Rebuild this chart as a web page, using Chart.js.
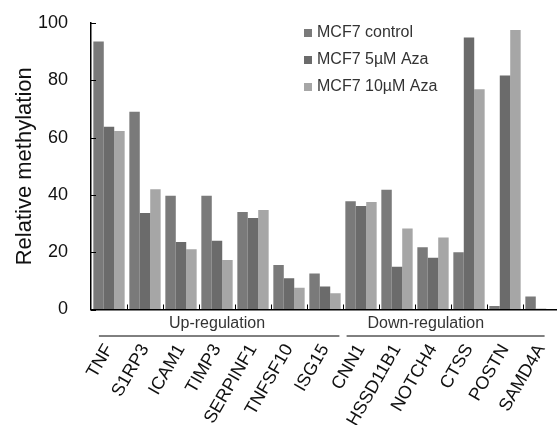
<!DOCTYPE html>
<html>
<head>
<meta charset="utf-8">
<script src="https://cdn.jsdelivr.net/npm/chart.js@4"></script>
<style>
  html, body { margin: 0; padding: 0; background: #fff; overflow: hidden; }
  #wrap { width: 562px; height: 425px; }
</style>
</head>
<body>
<div id="wrap"><canvas id="chart"></canvas></div>
<script>
  const genes = ['TNF', 'S1RP3', 'ICAM1', 'TIMP3', 'SERPINF1', 'TNFSF10', 'ISG15',
    'CNN1', 'HSSD11B1', 'NOTCH4', 'CTSS', 'POSTN', 'SAMD4A'];
  const control = [93.5, 69, 39.7, 39.7, 34, 15.5, 12.6, 37.8, 41.8, 21.7, 20, 1.2, 4.5];
  const aza5 = [63.8, 33.7, 23.6, 24, 31.9, 10.9, 8, 36.1, 14.9, 18.1, 94.9, 81.7, 0.3];
  const aza10 = [62.3, 42, 21, 17.3, 34.7, 7.6, 5.7, 37.5, 28.3, 25.1, 76.9, 97.6, 0.2];
  const seriesNames = ['MCF7 control', 'MCF7 5µM Aza', 'MCF7 10µM Aza'];
  const seriesColors = ['#7a7a7a', '#6b6b6b', '#a6a6a6'];
  const yTicks = [0, 20, 40, 60, 80, 100];
  const groupNames = ['Up-regulation', 'Down-regulation'];
  const groupFirst = [0, 7];
  const groupLast = [6, 12];

  const FONT = 'Arial, "Liberation Sans", sans-serif';
  const HIDDEN = 'rgba(0,0,0,0)';

  // ticks pointing into the plot, group labels under the axis, legend
  const extras = {
    id: 'extras',
    afterDraw(chart) {
      const ctx = chart.ctx;
      const x = chart.scales.x;
      const y = chart.scales.y;
      const area = chart.chartArea;
      const w = x.getPixelForValue(1) - x.getPixelForValue(0);
      ctx.save();
      ctx.strokeStyle = '#000';
      ctx.lineWidth = 1;

      for (let i = 1; i < genes.length; i++) {
        const px = Math.round(x.getPixelForValue(i) - w / 2) + 0.5;
        ctx.beginPath();
        ctx.moveTo(px, area.bottom);
        ctx.lineTo(px, area.bottom - 5);
        ctx.stroke();
      }
      for (const v of yTicks) {
        const py = Math.round(y.getPixelForValue(v)) + 0.5;
        ctx.beginPath();
        ctx.moveTo(area.left, py);
        ctx.lineTo(area.left + 5, py);
        ctx.stroke();
      }

      ctx.font = '16px ' + FONT;
      ctx.fillStyle = '#333';
      ctx.textAlign = 'center';
      ctx.textBaseline = 'middle';
      const insetL = [0.28, 0.4];
      const insetR = [0.4, 0.1];
      const textShift = [0, -0.7];
      groupNames.forEach((name, g) => {
        const a = x.getPixelForValue(groupFirst[g]) - insetL[g] * w;
        const b = x.getPixelForValue(groupLast[g]) + insetR[g] * w;
        const mid = (x.getPixelForValue(groupFirst[g]) + x.getPixelForValue(groupLast[g])) / 2 + textShift[g] * w;
        ctx.fillText(name, mid, area.bottom + 14);
        ctx.beginPath();
        ctx.moveTo(a, area.bottom + 26.5);
        ctx.lineTo(b, area.bottom + 26.5);
        ctx.stroke();
      });

      ctx.font = '16px ' + FONT;
      ctx.textAlign = 'left';
      chart.data.datasets.forEach((ds, i) => {
        const ly = 33 + i * 27;
        ctx.fillStyle = ds.backgroundColor;
        ctx.fillRect(304, ly - 4, 8, 8);
        ctx.fillStyle = '#333';
        ctx.fillText(ds.label, 317, ly);
      });
      ctx.restore();
    }
  };

  new Chart(document.getElementById('chart'), {
    type: 'bar',
    data: {
      labels: genes,
      datasets: [control, aza5, aza10].map((vals, i) => ({
        label: seriesNames[i],
        data: vals,
        backgroundColor: seriesColors[i],
        borderWidth: 0,
        categoryPercentage: 0.87,
        barPercentage: 1.0
      }))
    },
    options: {
      responsive: true,
      maintainAspectRatio: false,
      animation: false,
      layout: { padding: { top: 23, right: 3, left: 0, bottom: 0 } },
      plugins: { legend: { display: false }, tooltip: { enabled: false } },
      scales: {
        x: {
          grid: { display: true, drawOnChartArea: false, drawTicks: true, tickLength: 31, color: HIDDEN },
          border: { display: true, color: '#000', width: 1.5 },
          afterFit(scale) { scale.height = 115.5; },
          ticks: {
            autoSkip: false,
            maxRotation: 60,
            minRotation: 60,
            padding: 0,
            color: '#111',
            font: { family: FONT, size: 18 }
          }
        },
        y: {
          min: 0,
          max: 100,
          afterFit(scale) { scale.width = 91; },
          grid: { display: true, drawOnChartArea: false, drawTicks: true, tickLength: 23, color: HIDDEN },
          border: { display: true, color: '#000', width: 1.5 },
          ticks: {
            stepSize: 20,
            padding: 0,
            color: '#111',
            font: { family: FONT, size: 18 }
          },
          title: {
            display: true,
            text: 'Relative methylation',
            color: '#111',
            font: { family: FONT, size: 22 },
            padding: { top: 12, bottom: 0 }
          }
        }
      }
    },
    plugins: [extras]
  });
</script>
</body>
</html>
